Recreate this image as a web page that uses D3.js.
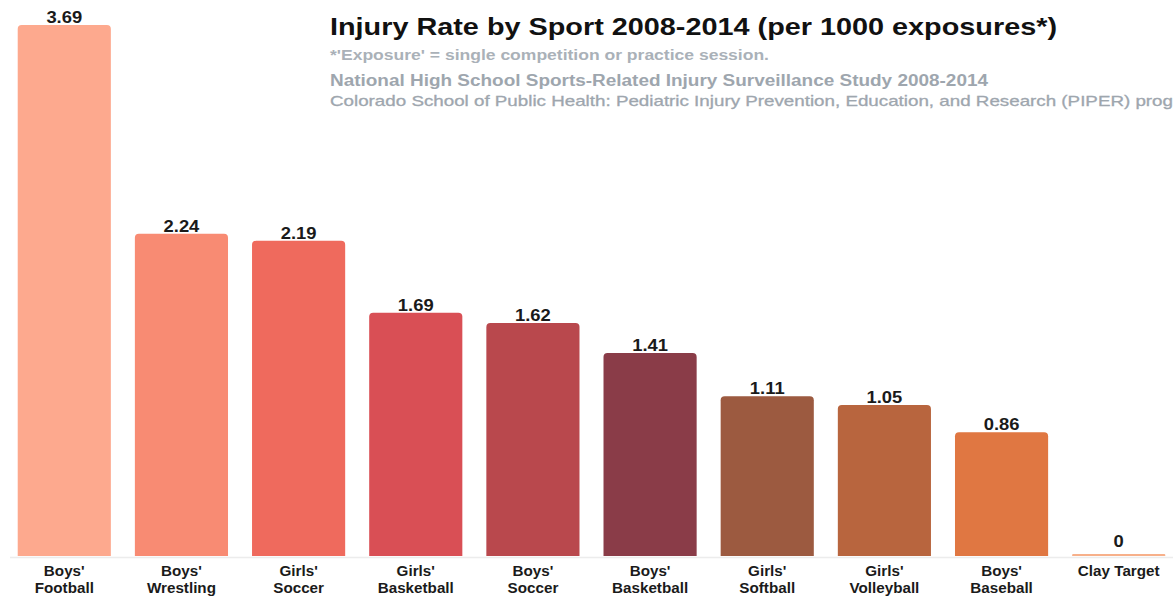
<!DOCTYPE html>
<html><head><meta charset="utf-8">
<script src="https://cdn.jsdelivr.net/npm/d3@7"></script>
<style>body{margin:0;background:#fff;overflow:hidden}svg{display:block}</style>
</head><body>
<svg id="c" width="1173" height="597"></svg>
<script>
const categories = [["Boys'","Football"],["Boys'","Wrestling"],["Girls'","Soccer"],["Girls'","Basketball"],["Boys'","Soccer"],["Boys'","Basketball"],["Girls'","Softball"],["Girls'","Volleyball"],["Boys'","Baseball"],["Clay Target"]];
const values = [3.69, 2.24, 2.19, 1.69, 1.62, 1.41, 1.11, 1.05, 0.86, 0];
const valueLabels = ["3.69","2.24","2.19","1.69","1.62","1.41","1.11","1.05","0.86","0"];
const colors = ["#FDA98E","#F88B73","#EF6A5D","#D94F55","#B9484D","#8A3C48","#9C5A40","#B8653E","#E07742","#F7B08A"];
const title = "Injury Rate by Sport 2008-2014 (per 1000 exposures*)";
const subtitles = ["*'Exposure' = single competition or practice session.",
 "National High School Sports-Related Injury Surveillance Study 2008-2014",
 "Colorado School of Public Health: Pediatric Injury Prevention, Education, and Research (PIPER) program"];

const svg = d3.select("#c");
const idx = d3.range(values.length);
const x = d3.scaleBand().domain(idx).range([6, 1177]).paddingInner(0.205).paddingOuter(0.1);
const y = d3.scaleLinear().domain([0, 3.69]).range([556, 25]);
const font = "'Liberation Sans', Arial, sans-serif";

svg.append("line").attr("x1",10).attr("x2",1173).attr("y1",557.5).attr("y2",557.5)
  .attr("stroke","#ececec").attr("stroke-width",1.5);

svg.selectAll("path.bar").data(idx).join("path").attr("class","bar")
  .attr("fill", i => colors[i])
  .attr("d", i => {
    const x0 = x(i), w = x.bandwidth();
    let top = y(values[i]); const b = y(0);
    if (b - top < 2) top = b - 2;
    const r = Math.min(4, (b-top)/2);
    return `M${x0},${b}V${top+r}Q${x0},${top} ${x0+r},${top}H${x0+w-r}Q${x0+w},${top} ${x0+w},${top+r}V${b}Z`;
  });

svg.selectAll("text.val").data(idx).join("text").attr("class","val")
  .attr("transform", i => `translate(${x(i)+x.bandwidth()/2},${Math.min(y(values[i]), y(0)-2) - (values[i]===0?7:2)}) scale(1.15,1)`)
  .attr("text-anchor","middle").attr("font-family",font).attr("font-weight","bold")
  .attr("font-size", 16).attr("fill","#1a1a1a")
  .text(i => valueLabels[i]);

const cat = svg.selectAll("text.cat").data(idx).join("text").attr("class","cat")
  .attr("transform", i => `translate(${x(i)+x.bandwidth()/2},0) scale(1.05,1)`)
  .attr("text-anchor","middle").attr("font-family",font).attr("font-weight","bold")
  .attr("font-size",14.5).attr("fill","#1a1a1a");
cat.selectAll("tspan").data(i => categories[i].map(t => ({t, i}))).join("tspan")
  .attr("x", 0)
  .attr("y", (d,k) => 576 + k*17.5)
  .text(d => d.t);

function addText(str, yy, size, weight, fill, target) {
  return svg.append("text").attr("x",330).attr("y",yy).attr("font-family",font).attr("font-weight",weight)
    .attr("font-size",size).attr("fill",fill).text(str)
    .attr("textLength", target).attr("lengthAdjust","spacingAndGlyphs");
}
addText(title, 35, 24.5, "bold", "#111", 727);
addText(subtitles[0], 60, 14, "bold", "#aab1b8", 439);
addText(subtitles[1], 86, 16, "bold", "#9ea6ae", 658);
// third line: stretched so that "...(PIPER) prog" ends at the right edge
{
  const t = svg.append("text").attr("x",330).attr("y",106).attr("font-family",font).attr("font-weight","normal")
    .attr("font-size",15).attr("fill","#9ea6ae").attr("stroke","#9ea6ae").attr("stroke-width",0.3).text(subtitles[2]);
  const n = t.node();
  const L = n.getComputedTextLength();
  const P = n.getSubStringLength(0, subtitles[2].length - 3);
  t.attr("textLength", L * (843 / P)).attr("lengthAdjust","spacingAndGlyphs");
}
</script>
</body></html>
